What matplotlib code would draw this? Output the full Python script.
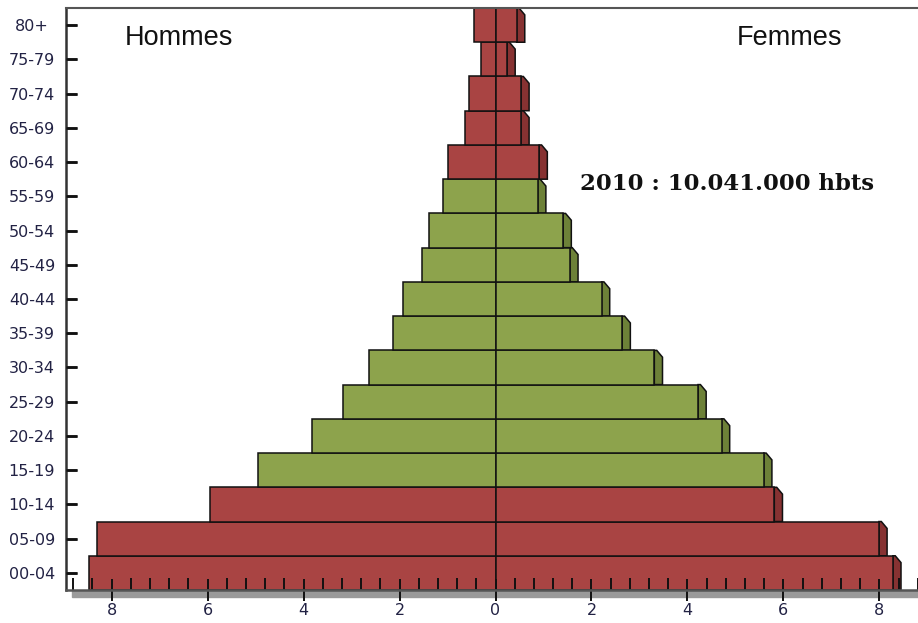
import matplotlib.pyplot as plt
from matplotlib.patches import Polygon, Rectangle
from matplotlib.ticker import MultipleLocator
from matplotlib.markers import TICKRIGHT

ages = ['00-04', '05-09', '10-14', '15-19', '20-24', '25-29', '30-34', '35-39',
        '40-44', '45-49', '50-54', '55-59', '60-64', '65-69', '70-74', '75-79', '80+']
hommes = [8.47, 8.30, 5.95, 4.95, 3.83, 3.17, 2.64, 2.14, 1.92, 1.53, 1.39,
          1.10, 0.99, 0.64, 0.56, 0.31, 0.45]
femmes = [8.28, 7.99, 5.81, 5.59, 4.71, 4.22, 3.31, 2.64, 2.21, 1.55, 1.41,
          0.88, 0.91, 0.53, 0.53, 0.24, 0.44]
titre = '2010 : 10.041.000 hbts'

red, red_dark = '#a94443', '#873232'
green, green_dark = '#8da34c', '#6d8138'

fig = plt.figure(figsize=(9.18, 6.23), dpi=100)
ax = fig.add_axes([66 / 918, 33 / 623, 859 / 918, 582 / 623])

y = list(range(len(ages)))
cols = [green if 3 <= i <= 11 else red for i in y]
dark = [green_dark if 3 <= i <= 11 else red_dark for i in y]

ax.barh(y, [-h for h in hommes], height=1.0, color=cols, edgecolor='#111111', linewidth=1.1, zorder=1.2)
ax.barh(y, femmes, height=1.0, color=cols, edgecolor='#111111', linewidth=1.1, zorder=1.2)

# 3d side on the right bars
d = 0.17
for i, v in enumerate(femmes):
    top, bot = i + 0.5, i - 0.5
    pts = [(v, bot), (v, top), (v + 0.05, top), (v + d, top - 0.2), (v + d, bot)]
    ax.add_patch(Polygon(pts, closed=True, facecolor=dark[i], edgecolor='#111111',
                         linewidth=1.1, zorder=1.1))

ax.set_xlim(-8.95, 8.95)
ax.set_ylim(-0.5, 16.5)

ax.set_yticks(y)
ax.set_yticklabels(ages)
ax.xaxis.set_minor_locator(MultipleLocator(0.4))
ax.set_xticks([-8, -6, -4, -2, 0, 2, 4, 6, 8])
ax.set_xticklabels(['8', '6', '4', '2', '0', '2', '4', '6', '8'])

ax.tick_params(axis='x', which='major', direction='inout', length=16, width=1.4,
               color='#111111', pad=1.5)
ax.tick_params(axis='x', which='minor', direction='in', length=8.5, width=1.4, color='#111111')
ax.tick_params(axis='y', which='major', direction='in', length=8, width=1.8, color='#111111', pad=24.5)
for lbl in ax.get_xticklabels() + ax.get_yticklabels():
    lbl.set_fontsize(11.5)
    lbl.set_color('#222244')
for lbl in ax.get_yticklabels():
    lbl.set_ha('center')

# y tick marks drawn again as markers on the left spine, so they always show
ax.plot([0] * len(y), y, transform=ax.get_yaxis_transform(), linestyle='none',
        marker=TICKRIGHT, markersize=8, markeredgewidth=1.8, color='#111111',
        clip_on=False, zorder=3)

ax.spines['top'].set_color('#555555')
ax.spines['top'].set_linewidth(1.5)
ax.spines['right'].set_visible(False)
ax.spines['left'].set_color('#333333')
ax.spines['left'].set_linewidth(1.8)
ax.spines['bottom'].set_color('#555555')
ax.spines['bottom'].set_linewidth(1.8)

# shadow below the axis
fig.add_artist(Rectangle((72 / 918, 26 / 623), 1, 6 / 623, transform=fig.transFigure,
                         color='#9a9a9a', zorder=0))

ax.text(-7.72, 15.62, 'Hommes', fontsize=19.5, family='Liberation Sans',
        color='#111111', ha='left', va='center')
ax.text(5.03, 15.62, 'Femmes', fontsize=19.5, family='Liberation Sans',
        color='#111111', ha='left', va='center')
ax.text(1.76, 11.36, titre, fontsize=16.4, family='DejaVu Serif', fontweight='bold',
        color='#111111', ha='left', va='center')

fig.savefig('out.png', dpi=100)
